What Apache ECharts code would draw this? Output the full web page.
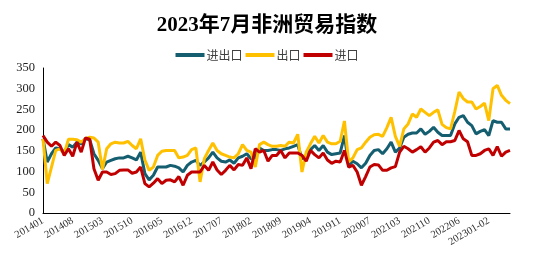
<!DOCTYPE html>
<html>
<head>
<meta charset="utf-8">
<script src="https://cdn.jsdelivr.net/npm/echarts@6/dist/echarts.min.js"></script>
<style>
html,body{margin:0;padding:0;background:#fff;}
#c{width:534px;height:267px;}
</style>
</head>
<body>
<div id="c"></div>
<script>
// categories: monthly 2014-01 .. 2023-07 (Jan-Feb combined from 2020)
const categories = (function(){
  const out = [];
  for (let y = 2014; y <= 2023; y++) {
    const last = (y === 2023) ? 7 : 12;
    for (let m = 1; m <= last; m++) {
      if (y >= 2020 && m === 1) { out.push(y + '01-02'); continue; }
      if (y >= 2020 && m === 2) continue;
      out.push(String(y) + (m < 10 ? '0' + m : m));
    }
  }
  return out;
})();

const seriesNames = ['进出口', '出口', '进口'];
const seriesColors = ['#145E70', '#FFC000', '#C00000'];

const totalTrade = [179,123,143,157,155,147,165,159,171,167,179,177,143,127,107,123,127,131,
133,133,137,133,128,147,95,80,91,111,111,111,115,113,109,99,115,123,127,
115,123,133,147,133,125,123,128,120,133,137,143,131,133,157,151,151,153,
153,151,155,157,161,165,131,139,153,163,151,163,147,141,143,145,187,115,
125,119,109,120,139,151,153,143,155,171,147,157,183,190,193,193,203,190,197,
207,195,187,187,187,215,231,235,219,211,191,197,201,187,223,219,219,203,203];

const exportIdx = [179,71,111,151,155,143,178,178,177,171,179,183,181,171,105,155,167,171,
169,169,173,163,155,179,128,103,111,139,149,151,151,151,133,135,139,153,157,
75,131,151,169,151,143,139,135,133,143,165,151,147,111,165,171,165,161,
161,163,161,171,169,190,99,147,167,185,169,187,171,167,167,173,222,123,
133,153,157,171,183,189,190,185,206,231,185,161,203,215,239,231,251,243,235,
243,249,214,206,203,245,292,276,268,268,251,257,265,223,300,308,284,272,264];

const importIdx = [187,171,161,171,163,139,155,137,171,147,181,178,107,79,99,99,93,95,
103,104,104,96,99,111,71,63,72,83,71,79,80,75,88,67,91,99,99,
99,115,103,123,104,93,103,115,104,117,115,133,107,155,147,151,125,139,
139,151,133,145,145,145,139,125,151,141,133,145,128,120,125,123,151,111,
115,99,67,88,111,117,116,103,103,109,112,147,161,155,147,153,160,147,157,
171,175,165,172,172,175,199,179,172,139,139,143,151,155,139,160,137,147,151];

const yTicks = [0,50,100,150,200,250,300,350];

const chart = echarts.init(document.getElementById('c'), null, {renderer:'canvas'});
const dataSets = [totalTrade, exportIdx, importIdx];
chart.setOption({
  animation: false,
  backgroundColor: '#ffffff',
  title: {
    text: '2023年7月非洲贸易指数',
    left: 'center',
    top: 10,
    textStyle: {fontFamily: '"Liberation Serif","Noto Sans CJK SC",serif', fontWeight: 'bold', fontSize: 21, color: '#000'}
  },
  legend: {
    top: 44,
    left: 'center',
    icon: 'rect',
    itemWidth: 29,
    itemHeight: 4,
    itemGap: 3,
    textStyle: {fontFamily: '"Noto Sans CJK SC",sans-serif', fontSize: 12, color: '#404040', padding: [0,0,0,-3]},
    data: seriesNames
  },
  grid: {left: 43, right: 24, top: 68, bottom: 54, containLabel: false},
  xAxis: {
    type: 'category',
    boundaryGap: false,
    data: categories,
    axisLine: {lineStyle: {color: '#000', width: 1}},
    axisTick: {show: false},
    axisLabel: {interval: 6, rotate: 30, fontFamily: '"Liberation Serif",serif', fontSize: 10.5, color: '#333', margin: 7}
  },
  yAxis: {
    type: 'value',
    min: yTicks[0],
    max: yTicks[yTicks.length-1],
    interval: 50,
    splitLine: {show: false},
    axisLine: {show: true, lineStyle: {color: '#000', width: 1}},
    axisTick: {show: false},
    axisLabel: {fontFamily: '"Liberation Serif",serif', fontSize: 12.5, color: '#222', margin: 8}
  },
  series: seriesNames.map((n, k) => ({
    name: n,
    type: 'line',
    data: dataSets[k],
    symbol: 'none',
    lineStyle: {width: 3, color: seriesColors[k]},
    itemStyle: {color: seriesColors[k]}
  }))
});
</script>
</body>
</html>
